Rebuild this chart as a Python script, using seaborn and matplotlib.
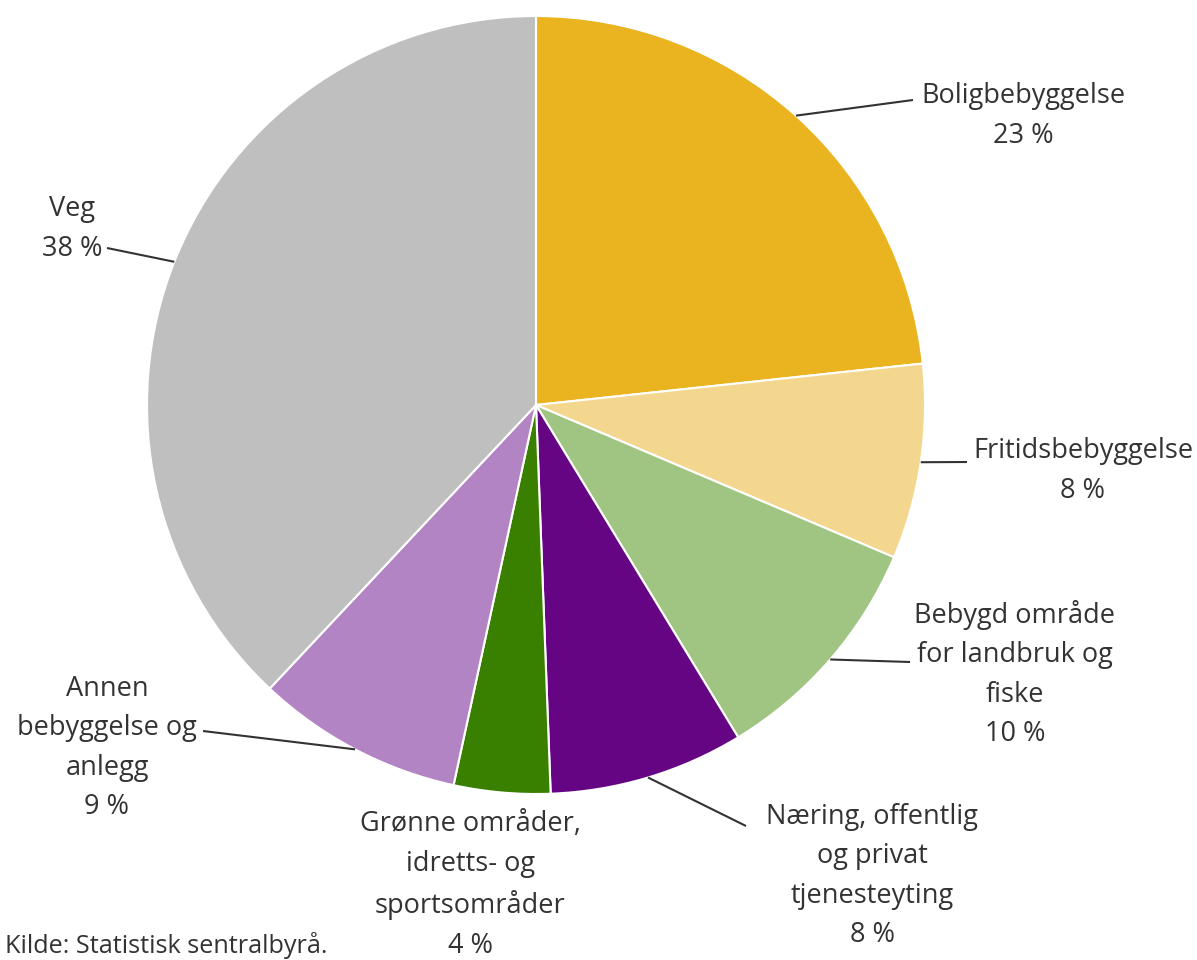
import numpy as np
import matplotlib
matplotlib.use("Agg")
import matplotlib.pyplot as plt
import seaborn as sns

# ---- data ----
categories = ["Boligbebyggelse", "Fritidsbebyggelse", "Bebygd område\nfor landbruk og\nfiske",
              "Næring, offentlig\nog privat\ntjenesteyting", "Grønne områder,\nidretts- og\nsportsområder",
              "Annen\nbebyggelse og\nanlegg", "Veg"]
values = [23.3, 8.1, 9.9, 8.1, 4.0, 8.6, 38.0]
colors = ["#EAB320", "#F4D78E", "#A0C481", "#660583", "#3A8000", "#B384C4", "#BFBFBF"]
source = "Kilde: Statistisk sentralbyrå."

# ---- layout (pixel coordinates, y measured from bottom) ----
W, H = 1197, 960
center = (536, H - 405)
radius = 389
label_pos = [(1023, H - 116), (1083, H - 471), (1015, H - 674), (872, H - 876),
             (470, H - 885), (107, H - 748), (72, H - 229)]
line_end = [(913, H - 100), (967, H - 462), (910, H - 662), (746, H - 826),
            None, (203, H - 731), (107, H - 248)]

sns.set_theme(style="white")
plt.rcParams['font.family'] = ['Open Sans', 'DejaVu Sans']

fig = plt.figure(figsize=(W / 100, H / 100), dpi=100)
ax = fig.add_axes([0, 0, 1, 1])

wedges, _ = ax.pie(values, colors=colors, startangle=90, counterclock=False,
                   center=center, radius=radius, frame=True,
                   wedgeprops=dict(edgecolor="white", linewidth=1.5))
ax.set_xlim(0, W)
ax.set_ylim(0, H)
ax.set_aspect("auto")
ax.axis("off")

txtcol = "#333333"
for w, cat, v, pos, end in zip(wedges, categories, values, label_pos, line_end):
    mid = np.deg2rad((w.theta1 + w.theta2) / 2)
    sx = center[0] + radius * np.cos(mid)
    sy = center[1] + radius * np.sin(mid)
    if end is not None:
        ax.plot([sx, end[0]], [sy, end[1]], color=txtcol, lw=1.5, solid_capstyle="butt")
    ax.text(pos[0], pos[1], f"{cat}\n{round(v):d} %", ha="center", va="center",
            fontsize=19.5, color=txtcol, linespacing=1.55, multialignment="center")

ax.text(5, 7, source, ha="left", va="baseline", fontsize=18.2, color=txtcol)

fig.savefig("out.png", dpi=100)
